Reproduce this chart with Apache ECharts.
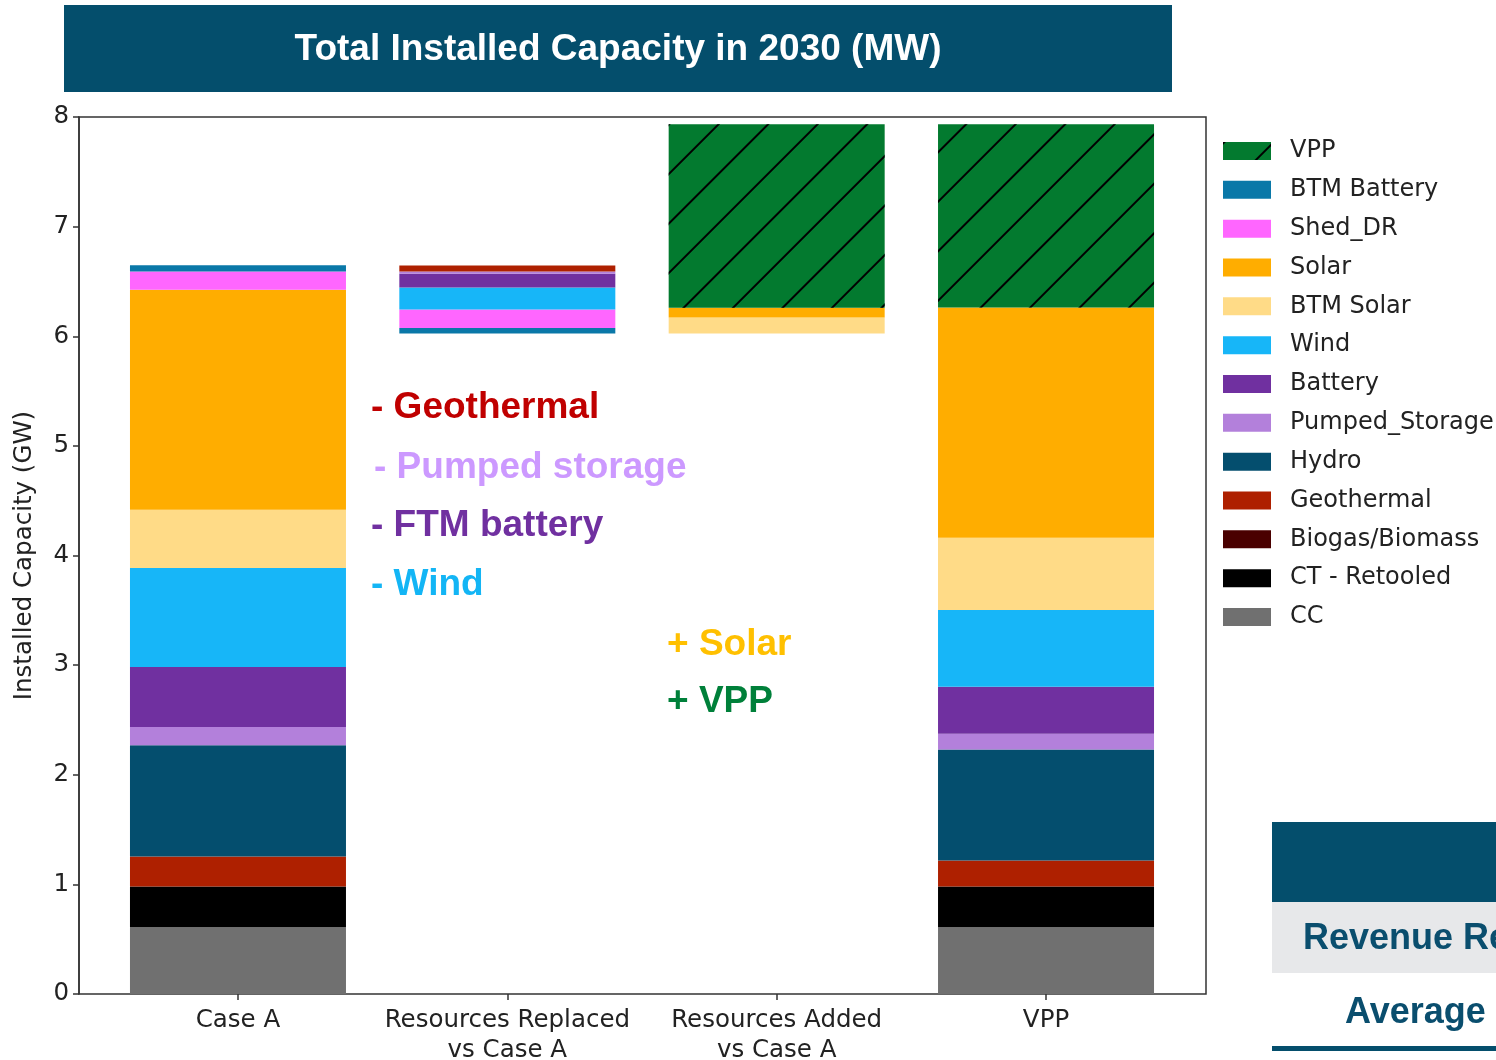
<!DOCTYPE html>
<html>
<head>
<meta charset="utf-8">
<title>Total Installed Capacity in 2030</title>
<script src="https://cdn.jsdelivr.net/npm/echarts@6/dist/echarts.min.js"></script>
<style>
html, body { margin: 0; padding: 0; background: #fff; }
#chart { width: 1496px; height: 1060px; }
</style>
</head>
<body>
<div id="chart"></div>
<script>
var categories = ['Case A', 'Resources Replaced\nvs Case A', 'Resources Added\nvs Case A', 'VPP'];
var yTicks = [0, 8, 1];              // min, max, step (GW)
var floatBase = [0, 6.024, 6.024, 0]; // invisible offset under the delta bars

// GW per resource for each bar (index 1 = amount replaced)
var cc         = [0.61, 0, 0, 0.61];
var ctRetooled = [0.371, 0, 0, 0.371];
var biogas     = [0, 0, 0, 0];
var geothermal = [0.274, 0.055, 0, 0.237];
var hydro      = [1.013, 0, 0, 1.013];
var pumped     = [0.167, 0.02, 0, 0.143];
var battery    = [0.547, 0.126, 0, 0.429];
var wind       = [0.903, 0.2, 0, 0.699];
var btmSolar   = [0.533, 0, 0.146, 0.661];
var solar      = [2.007, 0, 0.091, 2.099];
var shedDR     = [0.165, 0.168, 0, 0];
var btmBattery = [0.057, 0.052, 0, 0];
var vpp        = [0, 0, 1.672, 1.672];

// bottom -> top
var resources = [
    { name: 'CC', color: '#707070', data: cc },
    { name: 'CT - Retooled', color: '#000000', data: ctRetooled },
    { name: 'Biogas/Biomass', color: '#4a0000', data: biogas },
    { name: 'Geothermal', color: '#ae2000', data: geothermal },
    { name: 'Hydro', color: '#044e6e', data: hydro },
    { name: 'Pumped_Storage', color: '#b380db', data: pumped },
    { name: 'Battery', color: '#7030a0', data: battery },
    { name: 'Wind', color: '#17b6f8', data: wind },
    { name: 'BTM Solar', color: '#ffdb87', data: btmSolar },
    { name: 'Solar', color: '#ffad00', data: solar },
    { name: 'Shed_DR', color: '#ff66ff', data: shedDR },
    { name: 'BTM Battery', color: '#0a78a8', data: btmBattery },
    { name: 'VPP', color: '#037a2f', data: vpp }
];

var hatch = {
    symbol: 'rect',
    color: '#000',
    dashArrayX: [1, 0],
    dashArrayY: [1.6, 32.4],
    rotation: -Math.PI / 4
};

function pick(values, keep) {
    return values.map(function (v, i) { return keep(i) ? v : 0; });
}

function barSeries(name, color, data, stack) {
    var s = {
        name: name,
        type: 'bar',
        stack: stack,
        barWidth: 216,
        barGap: '-100%',
        data: data,
        itemStyle: { color: color },
        emphasis: { disabled: true }
    };
    if (name === 'VPP') s.itemStyle.decal = hatch;
    return s;
}

var series = [];
// main stack: Case A, Added, VPP
var base1 = barSeries('_base', 'rgba(0,0,0,0)', pick(floatBase, function (i) { return i === 2; }), 'main');
base1.silent = true;
series.push(base1);
resources.forEach(function (r) {
    series.push(barSeries(r.name, r.color, pick(r.data, function (i) { return i !== 1; }), 'main'));
});
// replaced stack: drawn top-down, so reversed order
var base2 = barSeries('_base2', 'rgba(0,0,0,0)', pick(floatBase, function (i) { return i === 1; }), 'replaced');
base2.silent = true;
series.push(base2);
resources.slice().reverse().forEach(function (r) {
    series.push(barSeries(r.name, r.color, pick(r.data, function (i) { return i === 1; }), 'replaced'));
});

var legendNames = resources.map(function (r) { return r.name; }).reverse();

var axisFont = { fontFamily: 'DejaVu Sans', fontSize: 24.5, color: '#222' };
var boldFont = 'bold 37px "Liberation Sans", Arial, sans-serif';

var notes = [
    { text: '- Geothermal', x: 371, y: 408, color: '#c00000' },
    { text: '- Pumped storage', x: 374, y: 468, color: '#cc99ff' },
    { text: '- FTM battery', x: 371, y: 526, color: '#7030a0' },
    { text: '- Wind', x: 371, y: 585, color: '#13b5f5' },
    { text: '+ Solar', x: 667, y: 645, color: '#ffc000' },
    { text: '+ VPP', x: 667, y: 702, color: '#00803a' }
];

var graphics = [
    { type: 'rect', shape: { x: 64, y: 5, width: 1108, height: 87 }, style: { fill: '#044e6c' } },
    { type: 'text', x: 618, y: 50, style: { text: 'Total Installed Capacity in 2030 (MW)', fill: '#fff',
        font: 'bold 37px "Liberation Sans", Arial, sans-serif', textAlign: 'center', textVerticalAlign: 'middle' } },
    { type: 'rect', shape: { x: 1272, y: 822, width: 230, height: 80 }, style: { fill: '#044e6c' } },
    { type: 'rect', shape: { x: 1272, y: 902, width: 230, height: 71 }, style: { fill: '#e7e8ea' } },
    { type: 'text', x: 1303, y: 939, style: { text: 'Revenue Requirement', fill: '#0a4e6e',
        font: 'bold 36px "Liberation Sans", Arial, sans-serif', textVerticalAlign: 'middle' } },
    { type: 'text', x: 1345, y: 1013, style: { text: 'Average', fill: '#0a4e6e',
        font: 'bold 36px "Liberation Sans", Arial, sans-serif', textVerticalAlign: 'middle' } },
    { type: 'rect', shape: { x: 1272, y: 1046, width: 230, height: 5 }, style: { fill: '#044e6c' } }
];
notes.forEach(function (n) {
    graphics.push({ type: 'text', x: n.x, y: n.y, style: { text: n.text, fill: n.color, font: boldFont, textVerticalAlign: 'middle' } });
});

var lineStyle = { color: '#333', width: 1.5 };

var chart = echarts.init(document.getElementById('chart'));
chart.setOption({
    animation: false,
    backgroundColor: '#fff',
    grid: [
        // bars: category centres spaced as in the original plot
        { left: 103.3, right: 315.3, top: 117, bottom: 66, outerBoundsMode: 'none', containLabel: false },
        // frame with the y axis
        { left: 79, right: 290, top: 117, bottom: 66, outerBoundsMode: 'none', containLabel: false,
          show: true, borderColor: '#333', borderWidth: 1.5 }
    ],
    legend: {
        orient: 'vertical',
        left: 1223,
        top: 139,
        padding: 0,
        itemWidth: 48,
        itemHeight: 18,
        itemGap: 14.83,
        icon: 'rect',
        data: legendNames,
        selectedMode: false,
        textStyle: { fontFamily: 'DejaVu Sans', fontSize: 24, color: '#222', padding: [0, 0, 0, 14] }
    },
    xAxis: [
        {
            gridIndex: 0,
            type: 'category',
            data: categories,
            axisLine: { show: false },
            axisTick: { show: true, alignWithLabel: true, length: 6, lineStyle: lineStyle },
            axisLabel: Object.assign({ margin: 12, lineHeight: 30, interval: 0 }, axisFont)
        },
        { gridIndex: 1, type: 'value', show: false }
    ],
    yAxis: [
        { gridIndex: 0, type: 'value', min: yTicks[0], max: yTicks[1], interval: yTicks[2], show: false },
        {
            gridIndex: 1,
            type: 'value',
            min: yTicks[0],
            max: yTicks[1],
            interval: yTicks[2],
            name: 'Installed Capacity (GW)',
            nameLocation: 'middle',
            nameGap: 42,
            nameTextStyle: axisFont,
            splitLine: { show: false },
            axisLine: { show: true, lineStyle: lineStyle },
            axisTick: { show: true, length: 6, lineStyle: lineStyle },
            axisLabel: Object.assign({ margin: 10 }, axisFont)
        }
    ],
    graphic: graphics,
    series: series
});
</script>
</body>
</html>
